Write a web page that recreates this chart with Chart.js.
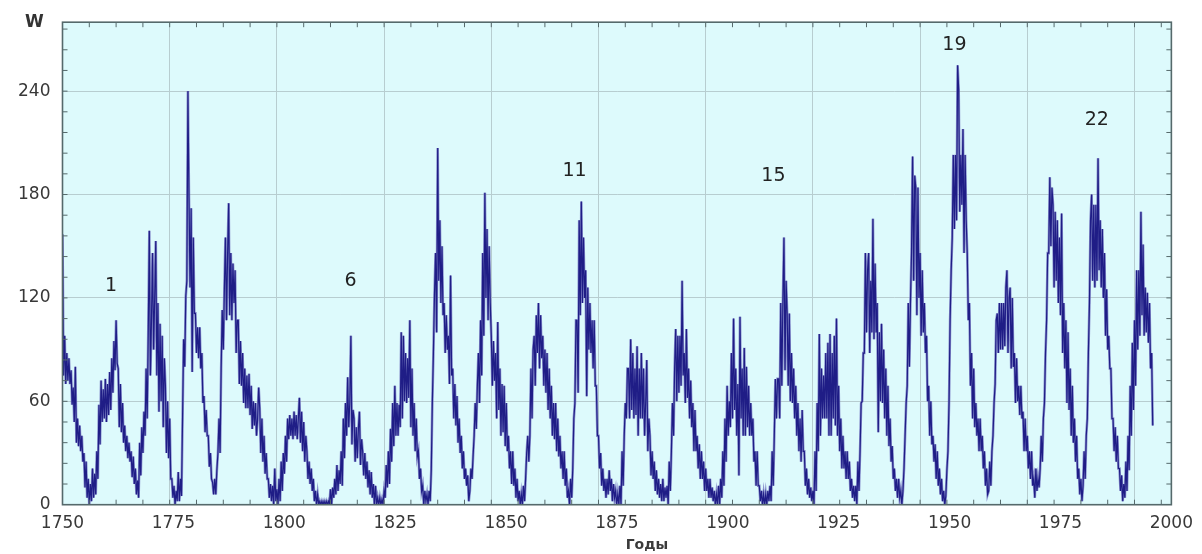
<!DOCTYPE html>
<html><head><meta charset="utf-8">
<script src="https://cdn.jsdelivr.net/npm/chart.js@4.4.1/dist/chart.umd.min.js"></script>
<style>html,body{margin:0;padding:0;background:#fff;}#wrap{width:1202px;height:554px;position:relative;}</style>
</head><body><div id="wrap"><canvas id="c" width="1202" height="554" style="width:1202px;height:554px"></canvas></div>
<script>
// Wolf numbers W, quarterly readings, each array = 10 years starting at the named year
const w1749 = [157,75,98,70, 88,72,85,70, 78,58,68,48, 80,36,50,34, 46,31,40,25, 30,10,25,4, 15,0,12,2, 21,4,18,6, 31,15,58,35, 72,48,67,50];
const w1759 = [73,48,70,52, 77,55,85,65, 95,78,107,82, 79,45,70,42, 59,36,46,31, 40,27,36,25, 31,16,28,12, 21,6,14,4, 36,17,45,30, 54,40,79,50];
const w1769 = [100,159,75,107, 146,90,120,153, 75,117,54,105, 60,98,45,85, 69,30,60,27, 50,15,15,4, 11,0,8,2, 19,2,15,5, 50,96,80,121, 130,240,178,126];
const w1779 = [172,77,155,111, 111,88,103,85, 103,79,88,59, 63,42,55,40, 40,22,30,15, 13,6,15,6, 20,30,50,30, 79,113,90,125, 155,107,145,175, 110,146,107,140];
const w1789 = [117,136,88,107, 107,70,95,69, 88,59,79,56, 75,56,76,52, 69,44,60,46, 59,40,50,68, 56,30,50,25, 40,18,30,15, 15,4,12,2, 11,0,21,2];
const w1799 = [9,0,15,2, 25,8,30,18, 40,25,50,38, 52,40,50,38, 54,40,52,38, 50,62,36,54, 31,48,25,40, 31,15,25,12, 21,8,15,2, 8,0,6,0];
const w1809 = [2,0,2,0, 2,0,2,0, 2,0,9,0, 10,4,15,6, 23,8,20,12, 31,11,50,27, 59,40,74,45, 59,98,35,55, 50,25,45,27, 44,54,23,38];
const w1819 = [31,17,30,15, 25,10,20,6, 19,4,12,0, 11,0,4,0, 4,0,3,0, 8,4,23,10, 31,12,44,25, 59,34,69,40, 59,40,58,45, 100,50,98,60];
const w1829 = [88,59,85,62, 107,45,79,40, 59,31,50,28, 31,15,21,8, 11,0,8,2, 6,0,8,2, 20,59,88,122, 146,100,207,130, 165,117,150,110, 117,88,110,90];
const w1839 = [98,70,133,75, 79,50,70,46, 63,36,50,30, 40,21,31,15, 21,11,17,2, 8,21,15,28, 40,59,44,69, 88,59,107,75, 146,98,181,120, 160,107,150,117];
const w1849 = [98,69,95,72, 88,50,106,55, 79,40,70,42, 69,34,59,31, 40,21,31,12, 31,11,21,4, 15,2,8,0, 6,0,11,2, 15,30,40,25, 40,79,50,90];
const w1859 = [98,69,110,88, 117,79,110,85, 98,69,90,65, 88,55,79,50, 69,40,59,38, 59,31,50,28, 40,21,31,15, 31,11,21,4, 8,0,15,4, 21,50,59,107];
const w1869 = [107,65,165,110, 176,117,155,120, 136,63,126,90, 117,88,107,79, 107,69,69,40, 40,21,30,11, 21,8,15,4, 15,6,20,8, 15,2,12,4, 8,0,6,0];
const w1879 = [11,0,31,11, 40,59,50,79, 79,50,96,55, 88,50,79,52, 92,40,79,50, 88,50,79,40, 59,84,31,50, 40,17,31,15, 25,8,20,6, 15,4,12,2];
const w1889 = [15,2,10,4, 11,0,25,8, 31,59,40,79, 102,60,98,65, 98,69,130,75, 88,59,102,62, 79,50,72,45, 59,31,55,31, 40,21,35,15, 31,15,25,8];
const w1899 = [21,8,15,4, 15,4,10,2, 8,0,6,0, 11,0,15,4, 31,11,50,25, 69,40,60,45, 88,50,108,55, 79,40,70,17, 109,50,79,40, 91,40,80,45];
const w1909 = [69,40,59,40, 50,25,31,11, 31,11,11,2, 8,0,6,0, 6,0,8,2, 11,2,31,11, 40,73,50,73, 73,50,117,69, 117,155,78,130, 111,69,111,60];
const w1919 = [88,59,79,50, 69,40,59,31, 50,25,55,31, 31,11,21,6, 15,4,10,2, 8,0,31,8, 59,31,99,40, 79,50,75,50, 88,50,94,40, 99,40,88,50];
const w1929 = [98,46,108,40, 69,31,50,21, 40,21,31,15, 31,15,25,8, 15,4,11,2, 11,0,25,8, 31,59,60,88, 88,146,100,136, 146,88,130,100, 166,96,140,100];
const w1939 = [117,42,100,60, 105,59,90,50, 79,40,69,34, 50,25,34,15, 21,8,15,4, 15,4,8,0, 8,21,40,59, 69,117,80,117, 146,202,130,191, 184,110,184,120];
const w1949 = [146,98,136,100, 117,88,98,60, 69,40,60,35, 40,25,35,15, 31,11,21,6, 15,2,8,0, 5,20,31,59, 107,136,155,203, 160,203,165,255, 241,170,203,174];
const w1959 = [218,146,203,165, 146,107,117,69, 88,50,79,45, 59,40,50,31, 50,31,40,21, 31,11,21,6, 8,25,11,31, 40,59,70,107, 111,88,117,90, 117,90,117,92];
const w1969 = [126,136,88,120, 126,79,120,80, 88,59,85,60, 69,52,69,50, 54,31,50,31, 40,21,31,15, 31,11,15,4, 21,8,15,10, 21,40,25,50, 59,88,107,146];
const w1979 = [146,190,150,184, 174,126,170,130, 165,117,155,110, 169,88,117,79, 107,59,100,55, 79,40,69,36, 50,25,40,15, 21,6,15,2, 11,31,15,40, 50,88,117,165];
const w1989 = [180,130,174,126, 174,130,201,136, 165,126,160,120, 146,98,125,90, 98,79,79,50, 50,31,45,25, 40,21,21,8, 17,2,12,4, 25,8,40,20, 69,40,94,55];
const w1999 = [107,69,136,90, 136,98,170,110, 151,98,126,100, 123,94,117,79, 88,46];

const decadeStarts = [1749,1759,1769,1779,1789,1799,1809,1819,1829,1839,1849,1859,1869,1879,1889,1899,1909,1919,1929,1939,1949,1959,1969,1979,1989,1999];
const decadeValues = [w1749,w1759,w1769,w1779,w1789,w1799,w1809,w1819,w1829,w1839,w1849,w1859,w1869,w1879,w1889,w1899,w1909,w1919,w1929,w1939,w1949,w1959,w1969,w1979,w1989,w1999];
const samplesPerYear = 4;

// axis texts
const xTickLabels = [1750,1775,1800,1825,1850,1875,1900,1925,1950,1975,2000];
const yTickValues = [0,60,120,180,240];
const gridYears = [1774,1799,1824,1849,1874,1899,1924,1949,1974,1999];
const xTitle = 'Годы';
const yUnit = 'W';

// cycle numbers written on the chart
const cycleNames = ['1','6','11','15','19','22'];
const cycleYears = [1760.3,1816.2,1868.4,1914.8,1957.0,1990.2];
const cycleW = [127,130,193.5,191,267,223];

const points = [];
decadeValues.forEach((arr, k) => {
  arr.forEach((v, i) => points.push({x: decadeStarts[k] + i / samplesPerYear, y: v}));
});

const FONT = "'DejaVu Sans', 'Liberation Sans', Arial, sans-serif";

const framePlugin = {
  id: 'frame',
  beforeDraw(chart) {
    const {ctx, chartArea: a} = chart;
    ctx.save();
    ctx.fillStyle = '#ddfafc';
    ctx.fillRect(a.left, a.top, a.right - a.left, a.bottom - a.top);
    ctx.restore();
  },
  afterDraw(chart) {
    const {ctx, chartArea: a, scales} = chart;
    ctx.save();
    ctx.strokeStyle = '#55696b';
    ctx.lineWidth = 1;
    ctx.beginPath();
    for (let v = 1749; v <= scales.x.max; v += 6.25) {
      const px = scales.x.getPixelForValue(v);
      if (px <= a.left + 1 || px >= a.right - 1) continue;
      ctx.moveTo(px, a.top); ctx.lineTo(px, a.top + 5);
      ctx.moveTo(px, a.bottom); ctx.lineTo(px, a.bottom - 5);
    }
    for (let v = 12; v < scales.y.max; v += 12) {
      const py = scales.y.getPixelForValue(v);
      ctx.moveTo(a.left, py); ctx.lineTo(a.left + 5, py);
      ctx.moveTo(a.right, py); ctx.lineTo(a.right - 5, py);
    }
    ctx.stroke();
    ctx.lineWidth = 1.6;
    ctx.strokeRect(a.left, a.top, a.right - a.left, a.bottom - a.top);

    ctx.fillStyle = '#222';
    ctx.font = '19px ' + FONT;
    ctx.textAlign = 'center';
    ctx.textBaseline = 'middle';
    cycleNames.forEach((t, i) => {
      ctx.fillText(t, scales.x.getPixelForValue(cycleYears[i]), scales.y.getPixelForValue(cycleW[i]));
    });
    ctx.fillStyle = '#333';
    ctx.font = 'bold 17px ' + FONT;
    ctx.fillText(yUnit, a.left - 28, a.top);
    ctx.font = 'bold 14px ' + FONT;
    ctx.fillStyle = '#3a3a3a';
    ctx.fillText(xTitle, (a.left + a.right) / 2 + 30, 545);
    ctx.restore();
  }
};

new Chart(document.getElementById('c'), {
  type: 'line',
  data: {
    datasets: [{
      data: points,
      borderColor: '#1f1d86',
      borderWidth: 1.2,
      pointRadius: 0,
      tension: 0,
      fill: false,
      order: 0
    }, {
      data: points,
      borderColor: 'rgba(110,110,190,0.75)',
      borderWidth: 2.6,
      pointRadius: 0,
      tension: 0,
      fill: false,
      order: 1
    }]
  },
  options: {
    responsive: false,
    animation: false,
    parsing: false,
    normalized: true,
    events: [],
    layout: {padding: {top: 18, right: 25, left: 0, bottom: 0}},
    plugins: {legend: {display: false}, tooltip: {enabled: false}},
    scales: {
      x: {
        type: 'linear', position: 'bottom', weight: 0,
        min: 1749, max: 2007.6,
        afterBuildTicks: s => { s.ticks = gridYears.map(v => ({value: v})); },
        afterFit: s => { s.height = 0; },
        ticks: {display: false},
        grid: {color: '#b7cdd0', lineWidth: 1, drawTicks: false},
        border: {display: false}
      },
      xl: {
        type: 'linear', position: 'bottom', weight: 1,
        min: xTickLabels[0], max: xTickLabels[xTickLabels.length - 1],
        afterBuildTicks: s => { s.ticks = xTickLabels.map(v => ({value: v})); },
        afterFit: s => { s.height = 49.3; },
        ticks: {font: {family: FONT, size: 17}, color: '#383838', padding: 9, maxRotation: 0, autoSkip: false, callback: v => String(v)},
        grid: {display: false, drawTicks: false},
        border: {display: false}
      },
      y: {
        type: 'linear', position: 'left',
        min: 0, max: 280,
        afterBuildTicks: s => { s.ticks = yTickValues.map(v => ({value: v})); },
        afterFit: s => { s.width = 62.5; },
        ticks: {font: {family: FONT, size: 17}, color: '#383838', padding: 12},
        grid: {color: '#b7cdd0', lineWidth: 1, drawTicks: false},
        border: {display: false}
      }
    }
  },
  plugins: [framePlugin]
});
</script></body></html>
